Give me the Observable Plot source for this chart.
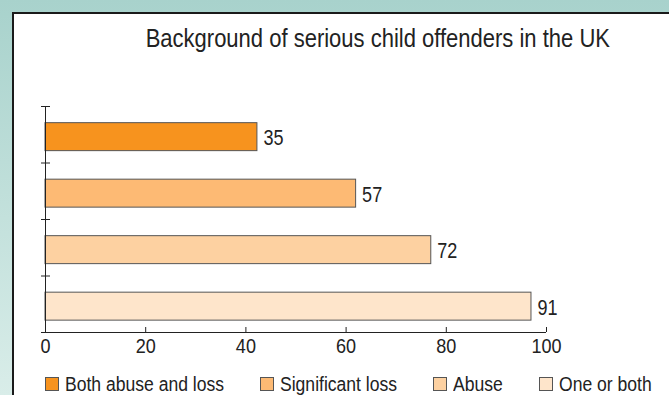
<!DOCTYPE html>
<html>
<head>
<meta charset="utf-8">
<script src="https://cdn.jsdelivr.net/npm/d3@7"></script>
<script src="https://cdn.jsdelivr.net/npm/@observablehq/plot@0.6"></script>
<style>
  body { margin: 0; }
  #page { position: relative; width: 669px; height: 395px; overflow: hidden;
    background: linear-gradient(#a8d2cc, #d9ede9);
    font-family: "Liberation Sans", Arial, sans-serif; color: #222; }
  #panel { position: absolute; left: 12px; top: 12px; right: -4px; bottom: -4px; background: #fff;
    border-left: 2px solid #1a1a1a; border-top: 2px solid #1a1a1a; }
  #title { position: absolute; left: 0; width: 756px; top: 24px; text-align: center;
    font-size: 25px; line-height: 28px; white-space: nowrap; }
  #title span { display: inline-block; transform: scaleX(0.88); transform-origin: center; }
  #chart { position: absolute; left: 0; top: 0; }
  #legend { position: absolute; left: 45px; top: 373.5px; display: flex; gap: 36px;
    font-size: 19.5px; line-height: 20px; white-space: nowrap; }
  .item { display: flex; align-items: center; gap: 6px; }
  .sw { width: 12px; height: 12px; border: 1px solid #555; box-sizing: content-box; }
  .lt { display: inline-block; transform-origin: left center; }
</style>
</head>
<body>
<div id="page">
  <div id="panel"></div>
  <div id="title"><span>Background of serious child offenders in the UK</span></div>
  <div id="chart"></div>
  <div id="legend"></div>
</div>
<script>
const categories = ["Both abuse and loss", "Significant loss", "Abuse", "One or both"];
const barLengths = [42.3, 62, 77, 97];
const valueLabels = ["35", "57", "72", "91"];
const colors = ["#f7931e", "#fdba74", "#fdd1a1", "#fee5cb"];
const xTicks = [0, 20, 40, 60, 80, 100];
const bandEdges = [0, 1, 2, 3, 4];

const data = categories.map((c, i) => ({category: c, index: i, value: barLengths[i], label: valueLabels[i]}));

const chart = Plot.plot({
  width: 669, height: 360,
  marginLeft: 45, marginRight: 123, marginTop: 106, marginBottom: 28,
  style: {background: "transparent", fontFamily: "'Liberation Sans', Arial, sans-serif", fontSize: "21px", color: "#222", overflow: "visible"},
  x: {domain: [0, 100], label: null},
  y: {domain: [0, 4], reverse: true, label: null},
  color: {domain: categories, range: colors},
  marks: [
    Plot.rectX(data, {x1: 0, x2: "value", y1: d => d.index + 0.295, y2: d => d.index + 0.79, fill: "category", stroke: "#555", strokeWidth: 1}),
    Plot.text(data, {x: "value", y: d => d.index + 0.56, text: "label", dx: 6, textAnchor: "start", fontSize: 22, fill: "#222"}),
    Plot.ruleX([0], {stroke: "#222"}),
    Plot.ruleY([4], {stroke: "#222"}),
    Plot.axisY({ticks: bandEdges, tickSize: 9, dx: 5, tickFormat: () => "", stroke: "#222", label: null}),
    Plot.axisX({ticks: xTicks, tickSize: 0, tickPadding: 6, tickFormat: d => String(d), label: null, fill: "#222"}),
    Plot.axisX({ticks: xTicks, tickSize: 5, dy: -5, tickFormat: () => "", stroke: "#222", label: null})
  ]
});
// condense the glyphs horizontally (the reference uses a condensed face)
chart.querySelectorAll("text").forEach(t => {
  const g = t.closest("g[aria-label]");
  const isValue = g && g.getAttribute("aria-label") === "text";
  const squeeze = isValue ? 0.82 : 0.86;
  const tr = t.getAttribute("transform") || "";
  t.setAttribute("transform", `${tr} scale(${squeeze},1)`.trim());
});
document.getElementById("chart").appendChild(chart);

const legend = document.getElementById("legend");
categories.forEach((c, i) => {
  const item = document.createElement("div");
  item.className = "item";
  const sw = document.createElement("div");
  sw.className = "sw";
  sw.style.background = colors[i];
  const t = document.createElement("span");
  t.className = "lt";
  t.textContent = c;
  item.appendChild(sw); item.appendChild(t);
  legend.appendChild(item);
});
const lscale = 0.9;
legend.querySelectorAll(".lt").forEach(t => {
  const w = t.offsetWidth;
  t.style.transform = `scaleX(${lscale})`;
  t.style.marginRight = `${-(1 - lscale) * w}px`;
});
</script>
</body>
</html>
